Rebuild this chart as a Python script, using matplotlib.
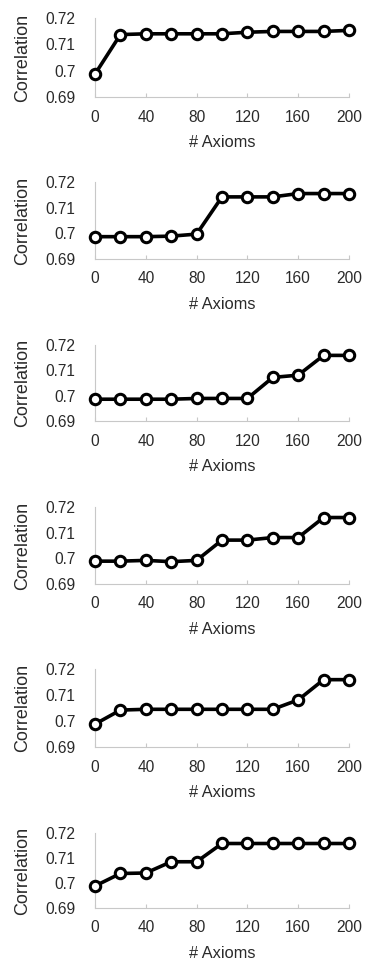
import matplotlib
matplotlib.use("Agg")
import matplotlib.pyplot as plt

plt.rcParams['font.family'] = ['Liberation Sans', 'DejaVu Sans']

axioms = [0, 20, 40, 60, 80, 100, 120, 140, 160, 180, 200]

corr_1 = [0.6987, 0.7137, 0.7140, 0.7140, 0.7140, 0.7140, 0.7146, 0.7149, 0.7149, 0.7149, 0.7153]
corr_2 = [0.6987, 0.6987, 0.6987, 0.6989, 0.6997, 0.7142, 0.7142, 0.7142, 0.7155, 0.7155, 0.7155]
corr_3 = [0.6986, 0.6986, 0.6986, 0.6986, 0.6989, 0.6989, 0.6989, 0.7072, 0.7081, 0.7159, 0.7159]
corr_4 = [0.6989, 0.6989, 0.6992, 0.6987, 0.6992, 0.7071, 0.7071, 0.7081, 0.7081, 0.7159, 0.7159]
corr_5 = [0.6988, 0.7042, 0.7045, 0.7045, 0.7045, 0.7045, 0.7045, 0.7045, 0.7081, 0.7159, 0.7159]
corr_6 = [0.6988, 0.7038, 0.7040, 0.7085, 0.7085, 0.7158, 0.7158, 0.7158, 0.7158, 0.7158, 0.7158]
series = [corr_1, corr_2, corr_3, corr_4, corr_5, corr_6]

x_ticks = [0, 40, 80, 120, 160, 200]
y_ticks = [0.69, 0.70, 0.71, 0.72]
y_ticklabels = ['0.69', '0.7', '0.71', '0.72']

W, H = 367, 961
fig = plt.figure(figsize=(W / 100, H / 100), dpi=100)

# pixel rows of each panel (top of 0.72, bottom of 0.69)
rows = [(18, 97), (182, 259), (345, 421), (507, 584), (669, 747), (833, 908)]
x_left, x_right = 95, 349

for (top, bot), vals in zip(rows, series):
    ax = fig.add_axes([x_left / W, 1 - bot / H, (x_right - x_left) / W, (bot - top) / H])
    ax.plot(axioms, vals, color='black', linewidth=2.6, marker='o',
            markersize=7.5, markerfacecolor='white', markeredgecolor='black',
            markeredgewidth=2.2, clip_on=False, zorder=3)
    ax.set_xlim(0, 200)
    ax.set_ylim(0.69, 0.72)
    ax.set_xticks(x_ticks)
    ax.set_yticks(y_ticks)
    ax.set_yticklabels(y_ticklabels)
    for side in ['top', 'right']:
        ax.spines[side].set_visible(False)
    for side in ['left', 'bottom']:
        ax.spines[side].set_color('#c8c8c8')
        ax.spines[side].set_linewidth(0.8)
    ax.tick_params(axis='x', direction='in', length=3, color='#c8c8c8',
                   labelsize=11.2, pad=9, labelcolor='#2a2a2a')
    ax.tick_params(axis='y', length=0, labelsize=11.2, pad=14, labelcolor='#2a2a2a')
    ax.set_xlabel('# Axioms', fontsize=11.8, labelpad=7.5, color='#2a2a2a')
    ax.set_ylabel('Correlation', fontsize=13, labelpad=10, color='#2a2a2a')

fig.savefig('out.png', dpi=100)
